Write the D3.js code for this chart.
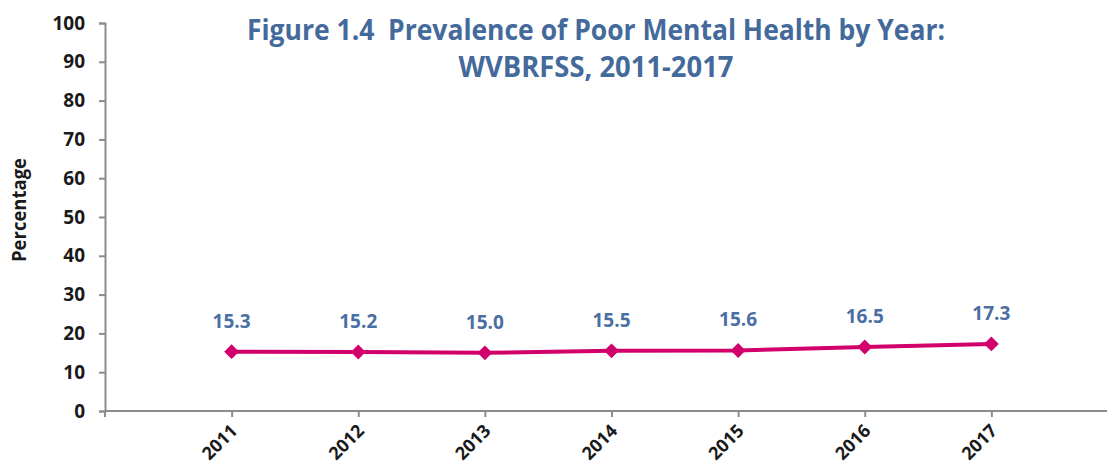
<!DOCTYPE html>
<html>
<head>
<meta charset="utf-8">
<script src="https://cdn.jsdelivr.net/npm/d3@7"></script>
<style>
  body { margin: 0; background: #fff; }
  text { font-family: "Open Sans", sans-serif; }
</style>
</head>
<body>
<svg id="chart"></svg>
<script>
// Data
const years = ["2011", "2012", "2013", "2014", "2015", "2016", "2017"];
const values = [15.3, 15.2, 15.0, 15.5, 15.6, 16.5, 17.3];
const yTicks = [0, 10, 20, 30, 40, 50, 60, 70, 80, 90, 100];
const titleLines = ["Figure 1.4  Prevalence of Poor Mental Health by Year:", "WVBRFSS, 2011-2017"];

// Chart Dimensions
const width = 1107;
const height = 470;
const plotLeft = 105;
const plotTop = 23;
const plotBottom = 411;

const svg = d3.select("#chart").attr("width", width).attr("height", height);

// Scales
const x = d3.scalePoint().domain(years).range([plotLeft, 1118]).padding(1);
const y = d3.scaleLinear().domain([0, 100]).range([plotBottom, plotTop]);

const axisColor = "#8c8c8c";
const textColor = "#1a1a1a";

// Y Axis
const yAxis = svg.append("g")
  .attr("transform", `translate(${plotLeft},0)`)
  .call(d3.axisLeft(y).tickValues(yTicks).tickSize(6).tickPadding(14));
yAxis.select(".domain").attr("stroke", axisColor).attr("stroke-width", 2);
yAxis.selectAll(".tick line").attr("stroke", axisColor).attr("stroke-width", 2);
yAxis.selectAll(".tick text")
  .attr("fill", textColor)
  .style("font-size", "19px")
  .style("font-weight", "bold")
  .style("font-family", "'Open Sans', sans-serif");

// X Axis
const xAxis = svg.append("g")
  .attr("transform", `translate(0,${plotBottom})`)
  .call(d3.axisBottom(x).tickSize(6).tickSizeOuter(0).tickFormat(""));
xAxis.select(".domain").remove();
xAxis.append("line")
  .attr("x1", plotLeft).attr("x2", width)
  .attr("y1", 0).attr("y2", 0)
  .attr("stroke", axisColor).attr("stroke-width", 2);
xAxis.append("line")
  .attr("x1", plotLeft).attr("x2", plotLeft)
  .attr("y1", 0).attr("y2", 6)
  .attr("stroke", axisColor).attr("stroke-width", 2);
xAxis.selectAll(".tick line").attr("stroke", axisColor).attr("stroke-width", 2);

// X labels rotated
svg.append("g")
  .selectAll("text")
  .data(years)
  .enter()
  .append("text")
  .attr("transform", (d) => `translate(${x(d) + 7},${plotBottom + 21}) rotate(-45)`)
  .attr("text-anchor", "end")
  .attr("fill", textColor)
  .style("font-size", "18px")
  .style("font-weight", "bold")
  .text((d) => d);

// Y axis title
svg.append("text")
  .attr("transform", "translate(26,210) rotate(-90)")
  .attr("text-anchor", "middle")
  .attr("fill", textColor)
  .attr("textLength", 104)
  .attr("lengthAdjust", "spacingAndGlyphs")
  .style("font-size", "19px")
  .style("font-weight", "bold")
  .text("Percentage");

// Title
svg.append("g")
  .selectAll("text")
  .data(titleLines)
  .enter()
  .append("text")
  .attr("x", 596)
  .attr("y", (d, i) => 40 + i * 37)
  .attr("text-anchor", "middle")
  .attr("fill", "#44699b")
  .attr("textLength", (d, i) => (i === 0 ? 698 : 275))
  .attr("lengthAdjust", "spacingAndGlyphs")
  .style("white-space", "pre")
  .style("font-size", "28px")
  .style("font-weight", "bold")
  .text((d) => d);

// Line
const points = years.map((d, i) => ({ year: d, value: values[i] }));
const line = d3.line().x((d) => x(d.year)).y((d) => y(d.value));

svg.append("path")
  .datum(points)
  .attr("fill", "none")
  .attr("stroke", "#d1006b")
  .attr("stroke-width", 4)
  .attr("d", line);

// Markers
svg.append("g")
  .selectAll("path")
  .data(points)
  .enter()
  .append("path")
  .attr("transform", (d) => `translate(${x(d.year)},${y(d.value)})`)
  .attr("d", d3.symbol().type(d3.symbolDiamond2).size(140))
  .attr("fill", "#d1006b");

// Data labels
svg.append("g")
  .selectAll("text")
  .data(points)
  .enter()
  .append("text")
  .attr("x", (d) => x(d.year))
  .attr("y", (d) => y(d.value) - 24)
  .attr("text-anchor", "middle")
  .attr("fill", "#4a6fa3")
  .style("font-size", "19px")
  .style("font-weight", "bold")
  .text((d) => d.value.toFixed(1));
</script>
</body>
</html>
